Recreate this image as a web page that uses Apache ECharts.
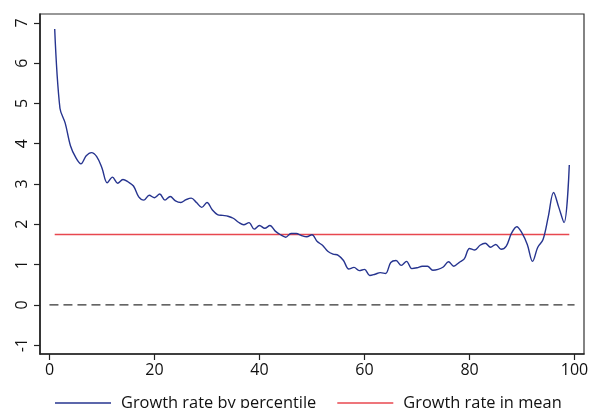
<!DOCTYPE html>
<html>
<head>
<meta charset="utf-8">
<script src="https://cdn.jsdelivr.net/npm/echarts@6/dist/echarts.min.js"></script>
<style>
  html, body { margin: 0; padding: 0; background: #fff; }
  #chart { width: 592px; height: 408px; }
</style>
</head>
<body>
<div id="chart"></div>
<script>
// Percentiles of the distribution (x positions of the curve)
const percentiles = [
  1, 2, 3, 4, 5, 6, 7, 8, 9, 10,
  11, 12, 13, 14, 15, 16, 17, 18, 19, 20,
  21, 22, 23, 24, 25, 26, 27, 28, 29, 30,
  31, 32, 33, 34, 35, 36, 37, 38, 39, 40,
  41, 42, 43, 44, 45, 46, 47, 48, 49, 50,
  51, 52, 53, 54, 55, 56, 57, 58, 59, 60,
  61, 62, 63, 64, 65, 66, 67, 68, 69, 70,
  71, 72, 73, 74, 75, 76, 77, 78, 79, 80,
  81, 82, 83, 84, 85, 86, 87, 88, 89, 90,
  91, 92, 93, 94, 95, 96, 97, 98, 99
];

// Annualised growth rate at each percentile (%)
const growthByPercentile = [
  6.85, 4.88, 4.51, 3.95, 3.66, 3.50, 3.70, 3.78, 3.68, 3.40,
  3.03, 3.17, 3.02, 3.11, 3.05, 2.95, 2.68, 2.60, 2.72, 2.66,
  2.75, 2.60, 2.69, 2.58, 2.54, 2.61, 2.65, 2.54, 2.42, 2.54,
  2.36, 2.24, 2.22, 2.20, 2.15, 2.05, 1.99, 2.04, 1.88, 1.97,
  1.90, 1.97, 1.83, 1.74, 1.68, 1.77, 1.77, 1.72, 1.69, 1.74,
  1.57, 1.48, 1.33, 1.26, 1.23, 1.10, 0.89, 0.93, 0.85, 0.88,
  0.73, 0.76, 0.80, 0.78, 1.05, 1.10, 0.98, 1.08, 0.90, 0.92,
  0.96, 0.96, 0.86, 0.88, 0.94, 1.07, 0.96, 1.05, 1.14, 1.40,
  1.36, 1.48, 1.53, 1.43, 1.50, 1.38, 1.46, 1.78, 1.94, 1.78,
  1.50, 1.08, 1.43, 1.62, 2.19, 2.79, 2.42, 2.04, 3.47
];

// Growth rate in the mean (%)
const meanGrowth = 1.745;

// Axis tick labels
const xTicks = [0, 20, 40, 60, 80, 100];
const yTicks = [-1, 0, 1, 2, 3, 4, 5, 6, 7];

const FONT = 'Open Sans';
const curve = percentiles.map((p, i) => [p, growthByPercentile[i]]);
const meanLine = [[percentiles[0], meanGrowth], [percentiles[percentiles.length - 1], meanGrowth]];
const zeroLine = [[0, 0], [100, 0]];

const chart = echarts.init(document.getElementById('chart'), null, { renderer: 'canvas' });
chart.setOption({
  animation: false,
  backgroundColor: '#ffffff',
  grid: {
    left: 40, right: 8, top: 14, bottom: 54,
    show: true, borderColor: '#333', borderWidth: 1.2, backgroundColor: 'transparent'
  },
  xAxis: {
    type: 'value', min: -1.8, max: 101.8,
    splitLine: { show: false },
    axisLine: { show: true, onZero: false, lineStyle: { color: '#222', width: 1.6 } },
    axisTick: { show: true, length: 6, customValues: xTicks, lineStyle: { color: '#222', width: 1.2 } },
    axisLabel: { customValues: xTicks, margin: 8, color: '#111', fontFamily: FONT, fontSize: 16 }
  },
  yAxis: {
    type: 'value', min: -1.22, max: 7.22,
    splitLine: { show: false },
    axisLine: { show: true, onZero: false, lineStyle: { color: '#222', width: 1.6 } },
    axisTick: { show: true, length: 6, customValues: yTicks, lineStyle: { color: '#222', width: 1.2 } },
    axisLabel: { customValues: yTicks, rotate: 90, margin: 10, color: '#111', fontFamily: FONT, fontSize: 16 }
  },
  legend: {
    left: 50, top: 390,
    itemWidth: 56, itemHeight: 1.5, itemGap: 21,
    icon: 'rect',
    textStyle: { color: '#111', fontFamily: FONT, fontSize: 16.4, padding: [0, 0, 0, 5] },
    data: ['Growth rate by percentile', 'Growth rate in mean']
  },
  series: [
    {
      name: 'Zero', type: 'line', data: zeroLine, symbol: 'none', silent: true,
      lineStyle: { color: '#333', width: 1.2, type: [9, 5] }, z: 1
    },
    {
      name: 'Growth rate in mean', type: 'line', data: meanLine, symbol: 'none',
      color: '#e8474f', lineStyle: { color: '#e8474f', width: 1.5 }, z: 2
    },
    {
      name: 'Growth rate by percentile', type: 'line', data: curve, symbol: 'none',
      smooth: 0.35,
      color: '#26348f', lineStyle: { color: '#26348f', width: 1.4 }, z: 3
    }
  ]
});
</script>
</body>
</html>
